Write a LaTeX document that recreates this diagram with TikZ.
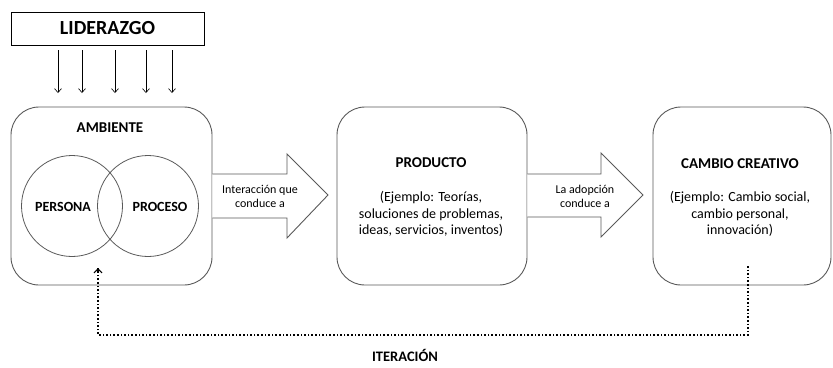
\documentclass[tikz,border=0pt]{standalone}
\usepackage{fontspec}
\setmainfont{Carlito}
\usetikzlibrary{arrows.meta,calc}
\begin{document}
\begin{tikzpicture}[x=1pt,y=-1pt,
  box/.style={draw=black!65,line width=0.9pt,rounded corners=28pt,inner sep=0pt},
  lbox/.style={draw=black,line width=0.8pt,inner sep=0pt},
  circ/.style={draw=black!65,line width=0.8pt,circle,inner sep=0pt,minimum size=101pt},
  hdr/.style={font=\bfseries\fontsize{15}{18}\selectfont,inner sep=0pt},
  vhdr/.style={font=\bfseries\fontsize{14}{17}\selectfont,inner sep=0pt},
  body/.style={font=\fontsize{14}{16.8}\selectfont,align=center,inner sep=0pt},
  small/.style={font=\fontsize{12}{14}\selectfont,align=center,inner sep=0pt},
  blk/.style={draw=black!65,line width=0.9pt,fill=white,line join=miter},
  down/.style={draw=black,line width=0.6pt,-{Straight Barb[length=4pt,width=7pt]}},
  iter/.style={draw=black,line width=1.6pt,dotted,line cap=butt}
]
\useasboundingbox (0,0) rectangle (833,367);

% Leadership box
\node[lbox,minimum width=193pt,minimum height=33pt] (lid) at (107.5,28.5) {};
\node[font=\bfseries\fontsize{20}{24}\selectfont,inner sep=0pt] (lidt) at (lid.center) {LIDERAZGO};
\foreach \i/\x in {1/58,2/82,3/115,4/146,5/172}{
  \coordinate (s\i) at (\x,50);
  \coordinate (e\i) at (\x,93);
  \draw[down] (s\i) -- (e\i);
}

% Main boxes
\node[box,minimum width=201pt,minimum height=178pt] (amb) at (111.5,196) {};
\node[box,minimum width=190pt,minimum height=178pt] (prod) at (432,196) {};
\node[box,minimum width=178pt,minimum height=178pt] (camb) at (742,196) {};

% Ambiente content
\node[hdr] (ambt) at (110,128) {AMBIENTE};
\node[circ] (c1) at (72,206) {};
\node[circ] (c2) at (148,206) {};
\node[vhdr] (pers) at (63,207) {PERSONA};
\node[vhdr] (proc) at (160,207) {PROCESO};

% Producto content
\node[hdr] (prodt) at (431,163) {PRODUCTO};
\node[body] (prodb) at (431,214) {(Ejemplo: Teorías,\\soluciones de problemas,\\ideas, servicios, inventos)};

% Cambio content
\node[hdr] (cambt) at (740,164) {CAMBIO CREATIVO};
\node[body] (cambb) at (740,214) {(Ejemplo: Cambio social,\\cambio personal,\\innovación)};

% Block arrow 1
\draw[blk] (amb.east |- 0,174) -- (287,174) -- (287,154) -- (328,195) -- (287,238) -- (287,218) -- (amb.east |- 0,218);
\node[small] (a1t) at (260,196) {Interacción que\\conduce a};

% Block arrow 2
\draw[blk] (prod.east |- 0,174) -- (601,174) -- (601,153) -- (643,195) -- (601,237) -- (601,217) -- (prod.east |- 0,217);
\node[small] (a2t) at (585,196) {La adopción\\conduce a};

% Iteration loop
\coordinate (it1) at (748,266);
\coordinate (it2) at (748,335);
\coordinate (it3) at (98,335);
\coordinate (it4) at (98,268);
\draw[iter] (it1) -- (it2) -- (it3) -- (it4);
\draw[draw=black,line width=1.2pt,-{Straight Barb[length=4pt,width=8pt]}] ($(it4)+(0,3)$) -- (it4);
\node[font=\bfseries\fontsize{14.5}{17}\selectfont,inner sep=0pt] (itt) at (405,355) {ITERACIÓN};
\end{tikzpicture}
\end{document}
